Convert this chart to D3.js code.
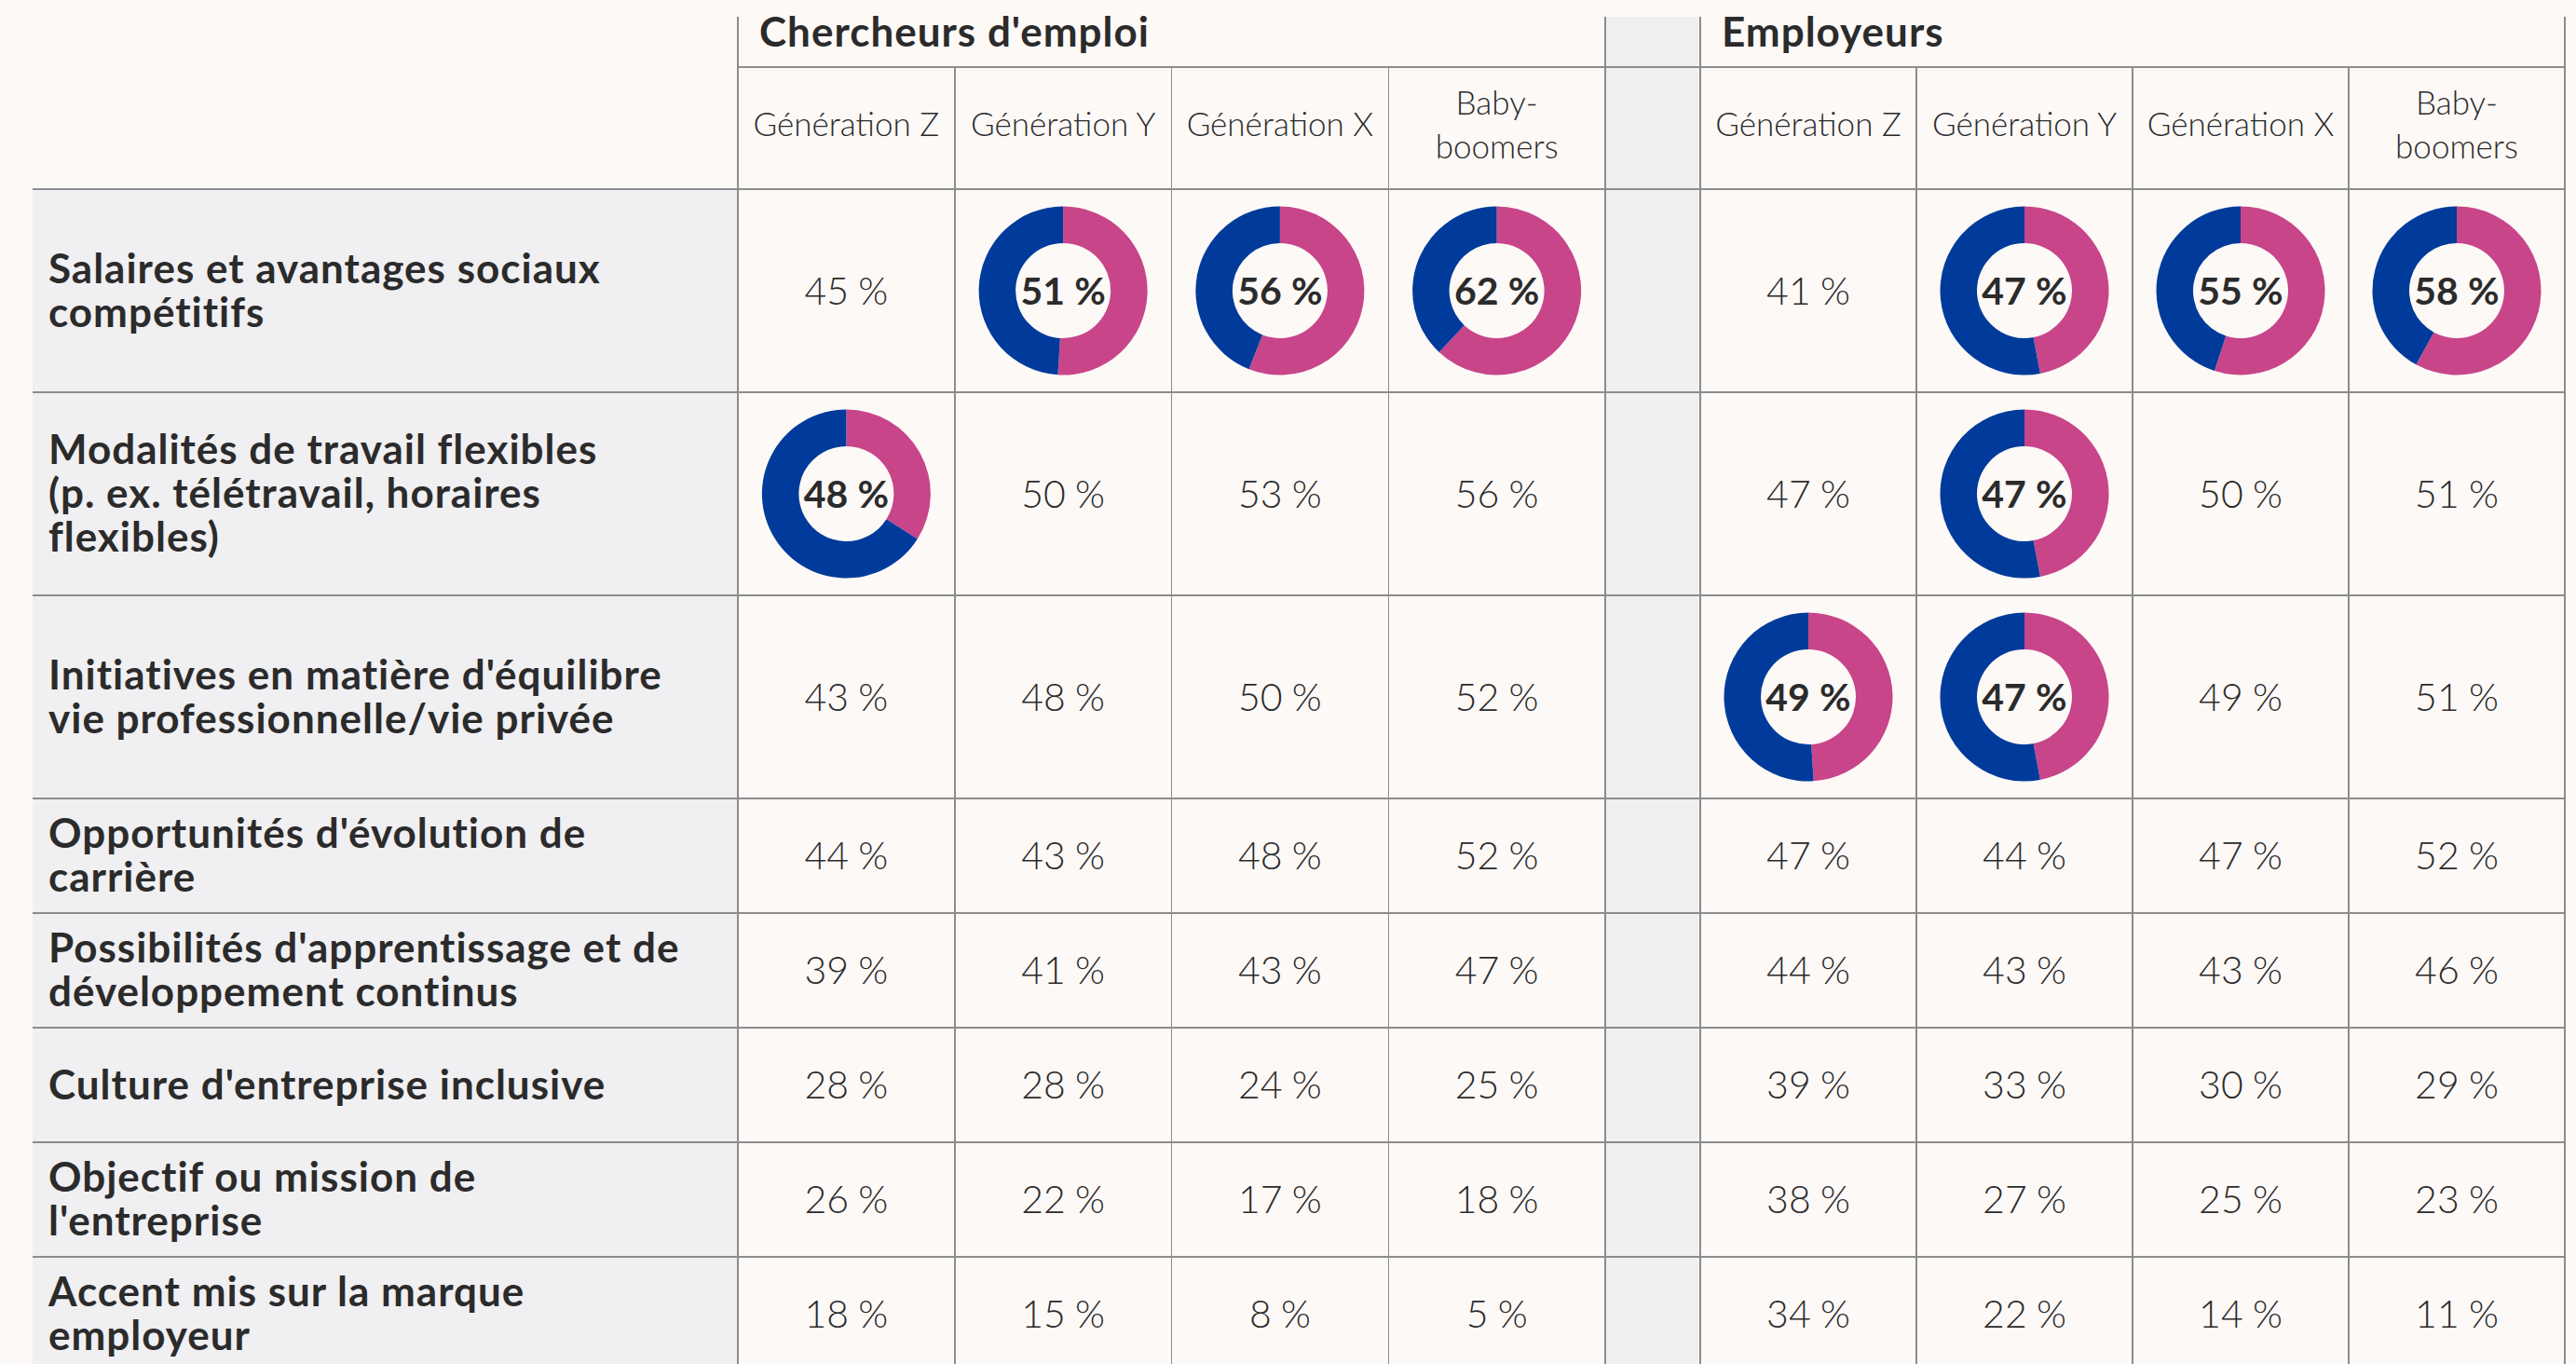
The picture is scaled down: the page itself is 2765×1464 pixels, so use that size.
<!DOCTYPE html>
<meta charset="utf-8">
<head>
    <style>
     html, body {
         margin: 0;
         padding: 0;
         background: #fdf9f7;
         overflow: hidden;
     }
     svg text {
         font-family: Lato, "Open Sans", sans-serif;
         fill: #2b2b2b;
     }
     .group-title { font-weight: 700; font-size: 44px; letter-spacing: 1px; }
     .gen-title { font-weight: 300; font-size: 35px; }
     .factor { font-weight: 700; font-size: 44px; letter-spacing: 1px; }
     .value { font-weight: 300; font-size: 41px; }
     .ring-value { font-weight: 700; font-size: 41px; }
    </style>
</head>
<title>Chercheurs d'emploi / Employeurs</title>
<body>
    <div id="chart"></div>
</body>
<script src="https://d3js.org/d3.v7.min.js"></script>
<script>

 // ---- data ----
 const groups = ["Chercheurs d'emploi", "Employeurs"];
 const generations = [["Génération Z"], ["Génération Y"], ["Génération X"], ["Baby-", "boomers"]];
 const factors = [
     ["Salaires et avantages sociaux", "compétitifs"],
     ["Modalités de travail flexibles", "(p. ex. télétravail, horaires", "flexibles)"],
     ["Initiatives en matière d'équilibre", "vie professionnelle/vie privée"],
     ["Opportunités d'évolution de", "carrière"],
     ["Possibilités d'apprentissage et de", "développement continus"],
     ["Culture d'entreprise inclusive"],
     ["Objectif ou mission de", "l'entreprise"],
     ["Accent mis sur la marque", "employeur"]
 ];
 const seekers = [
     [45, 51, 56, 62],
     [48, 50, 53, 56],
     [43, 48, 50, 52],
     [44, 43, 48, 52],
     [39, 41, 43, 47],
     [28, 28, 24, 25],
     [26, 22, 17, 18],
     [18, 15, 8, 5]
 ];
 const employers = [
     [41, 47, 55, 58],
     [47, 47, 50, 51],
     [49, 47, 49, 51],
     [47, 44, 47, 52],
     [44, 43, 43, 46],
     [39, 33, 30, 29],
     [38, 27, 25, 23],
     [34, 22, 14, 11]
 ];
 // highlighted cells drawn as rings: [row, column, pink share as drawn]
 const seekerRings = [[0, 1, 51], [0, 2, 56], [0, 3, 62], [1, 0, 34]];
 const employerRings = [[0, 1, 47], [0, 2, 55], [0, 3, 58], [1, 1, 47], [2, 0, 49], [2, 1, 47]];

 // ---- layout ----
 const W = 2765, H = 1464;
 const padL = 35, labelRight = 792, padR = 2753;
 const padT = 18, groupBottom = 72, headBottom = 203;
 const gapLeft = 1723, gapRight = 1825;
 const tallRow = 218, shortRow = 123;
 const lineColor = "#8c8c8c";
 const blue = "#003b9b", pink = "#c8458a";

 const tables = [
     {values: seekers, rings: seekerRings,
      x: d3.scaleBand().domain(d3.range(4)).range([labelRight, gapLeft])},
     {values: employers, rings: employerRings,
      x: d3.scaleBand().domain(d3.range(4)).range([gapRight, padR])}
 ];

 const hasRing = factors.map((f, i) => tables.some(t => t.rings.some(r => r[0] === i)));
 const rowH = hasRing.map(d => d ? tallRow : shortRow);
 const rowTop = [headBottom, ...Array.from(d3.cumsum(rowH), d => headBottom + d)];
 const bottomY = rowTop[rowTop.length - 1];
 const rowMid = i => (rowTop[i] + rowTop[i + 1]) / 2;

 const fmt = v => `${v}\u202F%`;

 const svg = d3.select("#chart")
               .append("svg")
               .attr("width", W)
               .attr("height", H)
               .attr("viewBox", [0, 0, W, H]);

 // backgrounds
 svg.append("rect")
    .attr("x", padL).attr("y", headBottom)
    .attr("width", labelRight - padL).attr("height", bottomY - headBottom)
    .attr("fill", "#f0eff2");
 svg.append("rect")
    .attr("x", gapLeft).attr("y", padT)
    .attr("width", gapRight - gapLeft).attr("height", bottomY - padT)
    .attr("fill", "#f0eff2");

 // grid lines
 const grid = svg.append("g")
                 .attr("stroke", lineColor)
                 .attr("stroke-width", 2)
                 .attr("shape-rendering", "crispEdges");

 grid.append("line")
     .attr("x1", labelRight).attr("x2", padR)
     .attr("y1", groupBottom).attr("y2", groupBottom);

 grid.selectAll("line.row")
     .data(rowTop)
     .join("line")
     .attr("class", "row")
     .attr("x1", padL).attr("x2", padR)
     .attr("y1", d => d).attr("y2", d => d);

 grid.selectAll("line.edge")
     .data([labelRight, gapLeft, gapRight, padR])
     .join("line")
     .attr("class", "edge")
     .attr("x1", d => d).attr("x2", d => d)
     .attr("y1", padT).attr("y2", bottomY);

 tables.forEach(t => {
     grid.append("g")
         .selectAll("line")
         .data(d3.range(1, 4))
         .join("line")
         .attr("x1", d => t.x(d)).attr("x2", d => t.x(d))
         .attr("y1", groupBottom).attr("y2", bottomY)
         .attr("stroke-width", 1.5);
 });

 // group titles
 svg.selectAll("text.group-title")
    .data(groups)
    .join("text")
    .attr("class", "group-title")
    .attr("x", (d, i) => tables[i].x.range()[0] + 23)
    .attr("y", 50)
    .text(d => d);

 // generation headers
 const lh = 47;
 tables.forEach(t => {
     svg.append("g")
        .selectAll("text")
        .data(generations)
        .join("text")
        .attr("class", "gen-title")
        .attr("text-anchor", "middle")
        .attr("x", (d, i) => t.x(i) + t.x.bandwidth() / 2)
        .attr("y", (groupBottom + headBottom) / 2 - 3.5)
        .each(function (d) {
            const el = d3.select(this);
            const x = el.attr("x");
            el.selectAll("tspan")
              .data(d)
              .join("tspan")
              .attr("x", x)
              .attr("dy", (s, j) => j === 0 ? `${0.35 - (d.length - 1) * lh / 2 / 35}em` : lh + "px")
              .text(s => s);
        });
 });

 // row labels
 svg.append("g")
    .selectAll("text")
    .data(factors)
    .join("text")
    .attr("class", "factor")
    .attr("x", 52)
    .attr("y", (d, i) => rowMid(i))
    .each(function (d) {
        const el = d3.select(this);
        el.selectAll("tspan")
          .data(d)
          .join("tspan")
          .attr("x", 52)
          .attr("dy", (s, j) => j === 0 ? `${0.35 - (d.length - 1) * 47 / 2 / 44}em` : "47px")
          .text(s => s);
    });

 // cells
 const pie = d3.pie().sort(null).value(d => d);
 const arc = d3.arc().innerRadius(51).outerRadius(90.5);
 const ringColor = [pink, blue];

 tables.forEach(t => {
     const cells = [];
     t.values.forEach((row, i) => row.forEach((v, j) => {
         const ring = t.rings.find(r => r[0] === i && r[1] === j);
         cells.push({row: i, col: j, value: v, ring: ring ? ring[2] : null});
     }));

     const cell = svg.append("g")
                     .selectAll("g")
                     .data(cells)
                     .join("g")
                     .attr("transform", d => `translate(${t.x(d.col) + t.x.bandwidth() / 2},${rowMid(d.row)})`);

     cell.filter(d => d.ring !== null)
         .selectAll("path")
         .data(d => pie([d.ring, 100 - d.ring]))
         .join("path")
         .attr("d", arc)
         .attr("fill", (d, i) => ringColor[i]);

     cell.append("text")
         .attr("class", d => d.ring !== null ? "ring-value" : "value")
         .attr("text-anchor", "middle")
         .attr("dy", "0.36em")
         .text(d => fmt(d.value));
 });
</script>
